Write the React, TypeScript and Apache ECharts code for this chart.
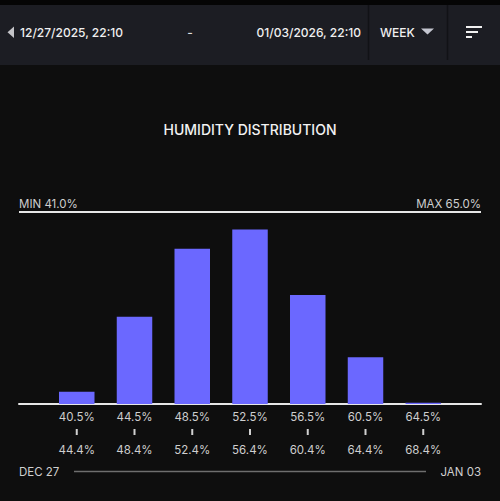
import React, { useEffect, useRef } from "react";
import * as echarts from "echarts";

const binStarts = ["40.5%", "44.5%", "48.5%", "52.5%", "56.5%", "60.5%", "64.5%"];
const binEnds = ["44.4%", "48.4%", "52.4%", "56.4%", "60.4%", "64.4%", "68.4%"];
const shares = [2.1, 14.9, 26.5, 29.8, 18.6, 8.0, 0.2];
const title = "HUMIDITY DISTRIBUTION";
const minLabel = "MIN 41.0%";
const maxLabel = "MAX 65.0%";
const rangeStart = "12/27/2025, 22:10";
const rangeEnd = "01/03/2026, 22:10";
const periodLabel = "WEEK";
const dayStart = "DEC 27";
const dayEnd = "JAN 03";

const FONT = "Inter, 'Noto Sans', sans-serif";

export default function App() {
  const ref = useRef<HTMLDivElement>(null);
  useEffect(() => {
    if (!ref.current) return;
    const chart = echarts.init(ref.current, undefined, { renderer: "svg" });
    const maxShare = Math.max(...shares);
    chart.setOption({
      animation: false,
      backgroundColor: "#0e0e0e",
      textStyle: { fontFamily: FONT },
      grid: { left: 19, right: 19, top: 212, bottom: 97 },
      xAxis: {
        type: "value",
        min: 0,
        max: binStarts.length + 1,
        interval: 1,
        splitLine: { show: false },
        axisTick: { show: false },
        axisLine: { show: true, lineStyle: { color: "#e6e6e6", width: 2 } },
        axisLabel: {
          show: true,
          margin: 6,
          showMinLabel: true,
          showMaxLabel: true,
          formatter: (v: number) => {
            const i = Math.round(v) - 1;
            if (i < 0 || i >= binStarts.length) return "";
            return `{a|${binStarts[i]}}\n{t| }\n{b|${binEnds[i]}}`;
          },
          rich: {
            a: { fontSize: 11.5, lineHeight: 14, color: "#cfcfcf", fontFamily: FONT },
            t: { width: 2, height: 6, lineHeight: 16, backgroundColor: "#d0d0d0" },
            b: { fontSize: 11.5, lineHeight: 20, color: "#cfcfcf", fontFamily: FONT },
          },
        },
      },
      yAxis: {
        type: "value",
        min: 0,
        max: maxShare * 1.1,
        show: false,
      },
      series: [
        {
          type: "bar",
          barWidth: 35.5,
          itemStyle: { color: "#6b68ff" },
          data: shares.map((v, i) => [i + 1, v]),
        },
      ],
      graphic: [
        { type: "rect", shape: { x: 0, y: 0, width: 500, height: 5 }, style: { fill: "#050505" } },
        { type: "rect", shape: { x: 0, y: 5, width: 500, height: 60 }, style: { fill: "#1c1d23" } },
        { type: "polygon", shape: { points: [[14, 26.5], [14, 38], [7.5, 32.2]] }, style: { fill: "#c4c4c8" } },
        {
          type: "text", x: 20, y: 32,
          style: { text: rangeStart, fill: "#f0f0f0", font: `500 12px ${FONT}`, textVerticalAlign: "middle" },
        },
        {
          type: "text", x: 190, y: 32,
          style: { text: "-", fill: "#e0e0e0", font: `500 12px ${FONT}`, textAlign: "center", textVerticalAlign: "middle" },
        },
        {
          type: "text", x: 361, y: 32,
          style: { text: rangeEnd, fill: "#f0f0f0", font: `500 12px ${FONT}`, textAlign: "right", textVerticalAlign: "middle" },
        },
        { type: "line", shape: { x1: 368.5, y1: 5, x2: 368.5, y2: 60 }, style: { stroke: "#111216", lineWidth: 1.5 } },
        {
          type: "text", x: 380, y: 32,
          style: { text: periodLabel, fill: "#f0f0f0", font: `500 12px ${FONT}`, textVerticalAlign: "middle" },
        },
        { type: "polygon", shape: { points: [[421, 28.5], [434, 28.5], [427.5, 34.5]] }, style: { fill: "#c4c6d0" } },
        { type: "line", shape: { x1: 447.5, y1: 5, x2: 447.5, y2: 60 }, style: { stroke: "#111216", lineWidth: 1.5 } },
        { type: "line", shape: { x1: 466, y1: 27, x2: 482, y2: 27 }, style: { stroke: "#f0f0f0", lineWidth: 2 } },
        { type: "line", shape: { x1: 466, y1: 32, x2: 478, y2: 32 }, style: { stroke: "#f0f0f0", lineWidth: 2 } },
        { type: "line", shape: { x1: 466, y1: 37, x2: 472, y2: 37 }, style: { stroke: "#f0f0f0", lineWidth: 2 } },
        {
          type: "text", x: 250, y: 129.5,
          style: { text: title, fill: "#f2f2f2", font: `500 14px ${FONT}`, textAlign: "center", textVerticalAlign: "middle" },
        },
        {
          type: "text", x: 19, y: 204,
          style: { text: minLabel, fill: "#cfcfcf", font: `11.5px ${FONT}`, textVerticalAlign: "middle" },
        },
        {
          type: "text", x: 481, y: 204,
          style: { text: maxLabel, fill: "#cfcfcf", font: `11.5px ${FONT}`, textAlign: "right", textVerticalAlign: "middle" },
        },
        { type: "line", shape: { x1: 19, y1: 212, x2: 481, y2: 212 }, style: { stroke: "#e6e6e6", lineWidth: 2 } },
        {
          type: "text", x: 19, y: 471.5,
          style: { text: dayStart, fill: "#cfcfcf", font: `11.5px ${FONT}`, textVerticalAlign: "middle" },
        },
        { type: "line", shape: { x1: 74, y1: 471.5, x2: 426, y2: 471.5 }, style: { stroke: "#6e6e6e", lineWidth: 1.5 } },
        {
          type: "text", x: 481, y: 471.5,
          style: { text: dayEnd, fill: "#cfcfcf", font: `11.5px ${FONT}`, textAlign: "right", textVerticalAlign: "middle" },
        },
      ],
    });
    return () => chart.dispose();
  }, []);
  return (
    <div
      ref={ref}
      style={{ position: "fixed", left: 0, top: 0, width: 500, height: 501 }}
    />
  );
}
